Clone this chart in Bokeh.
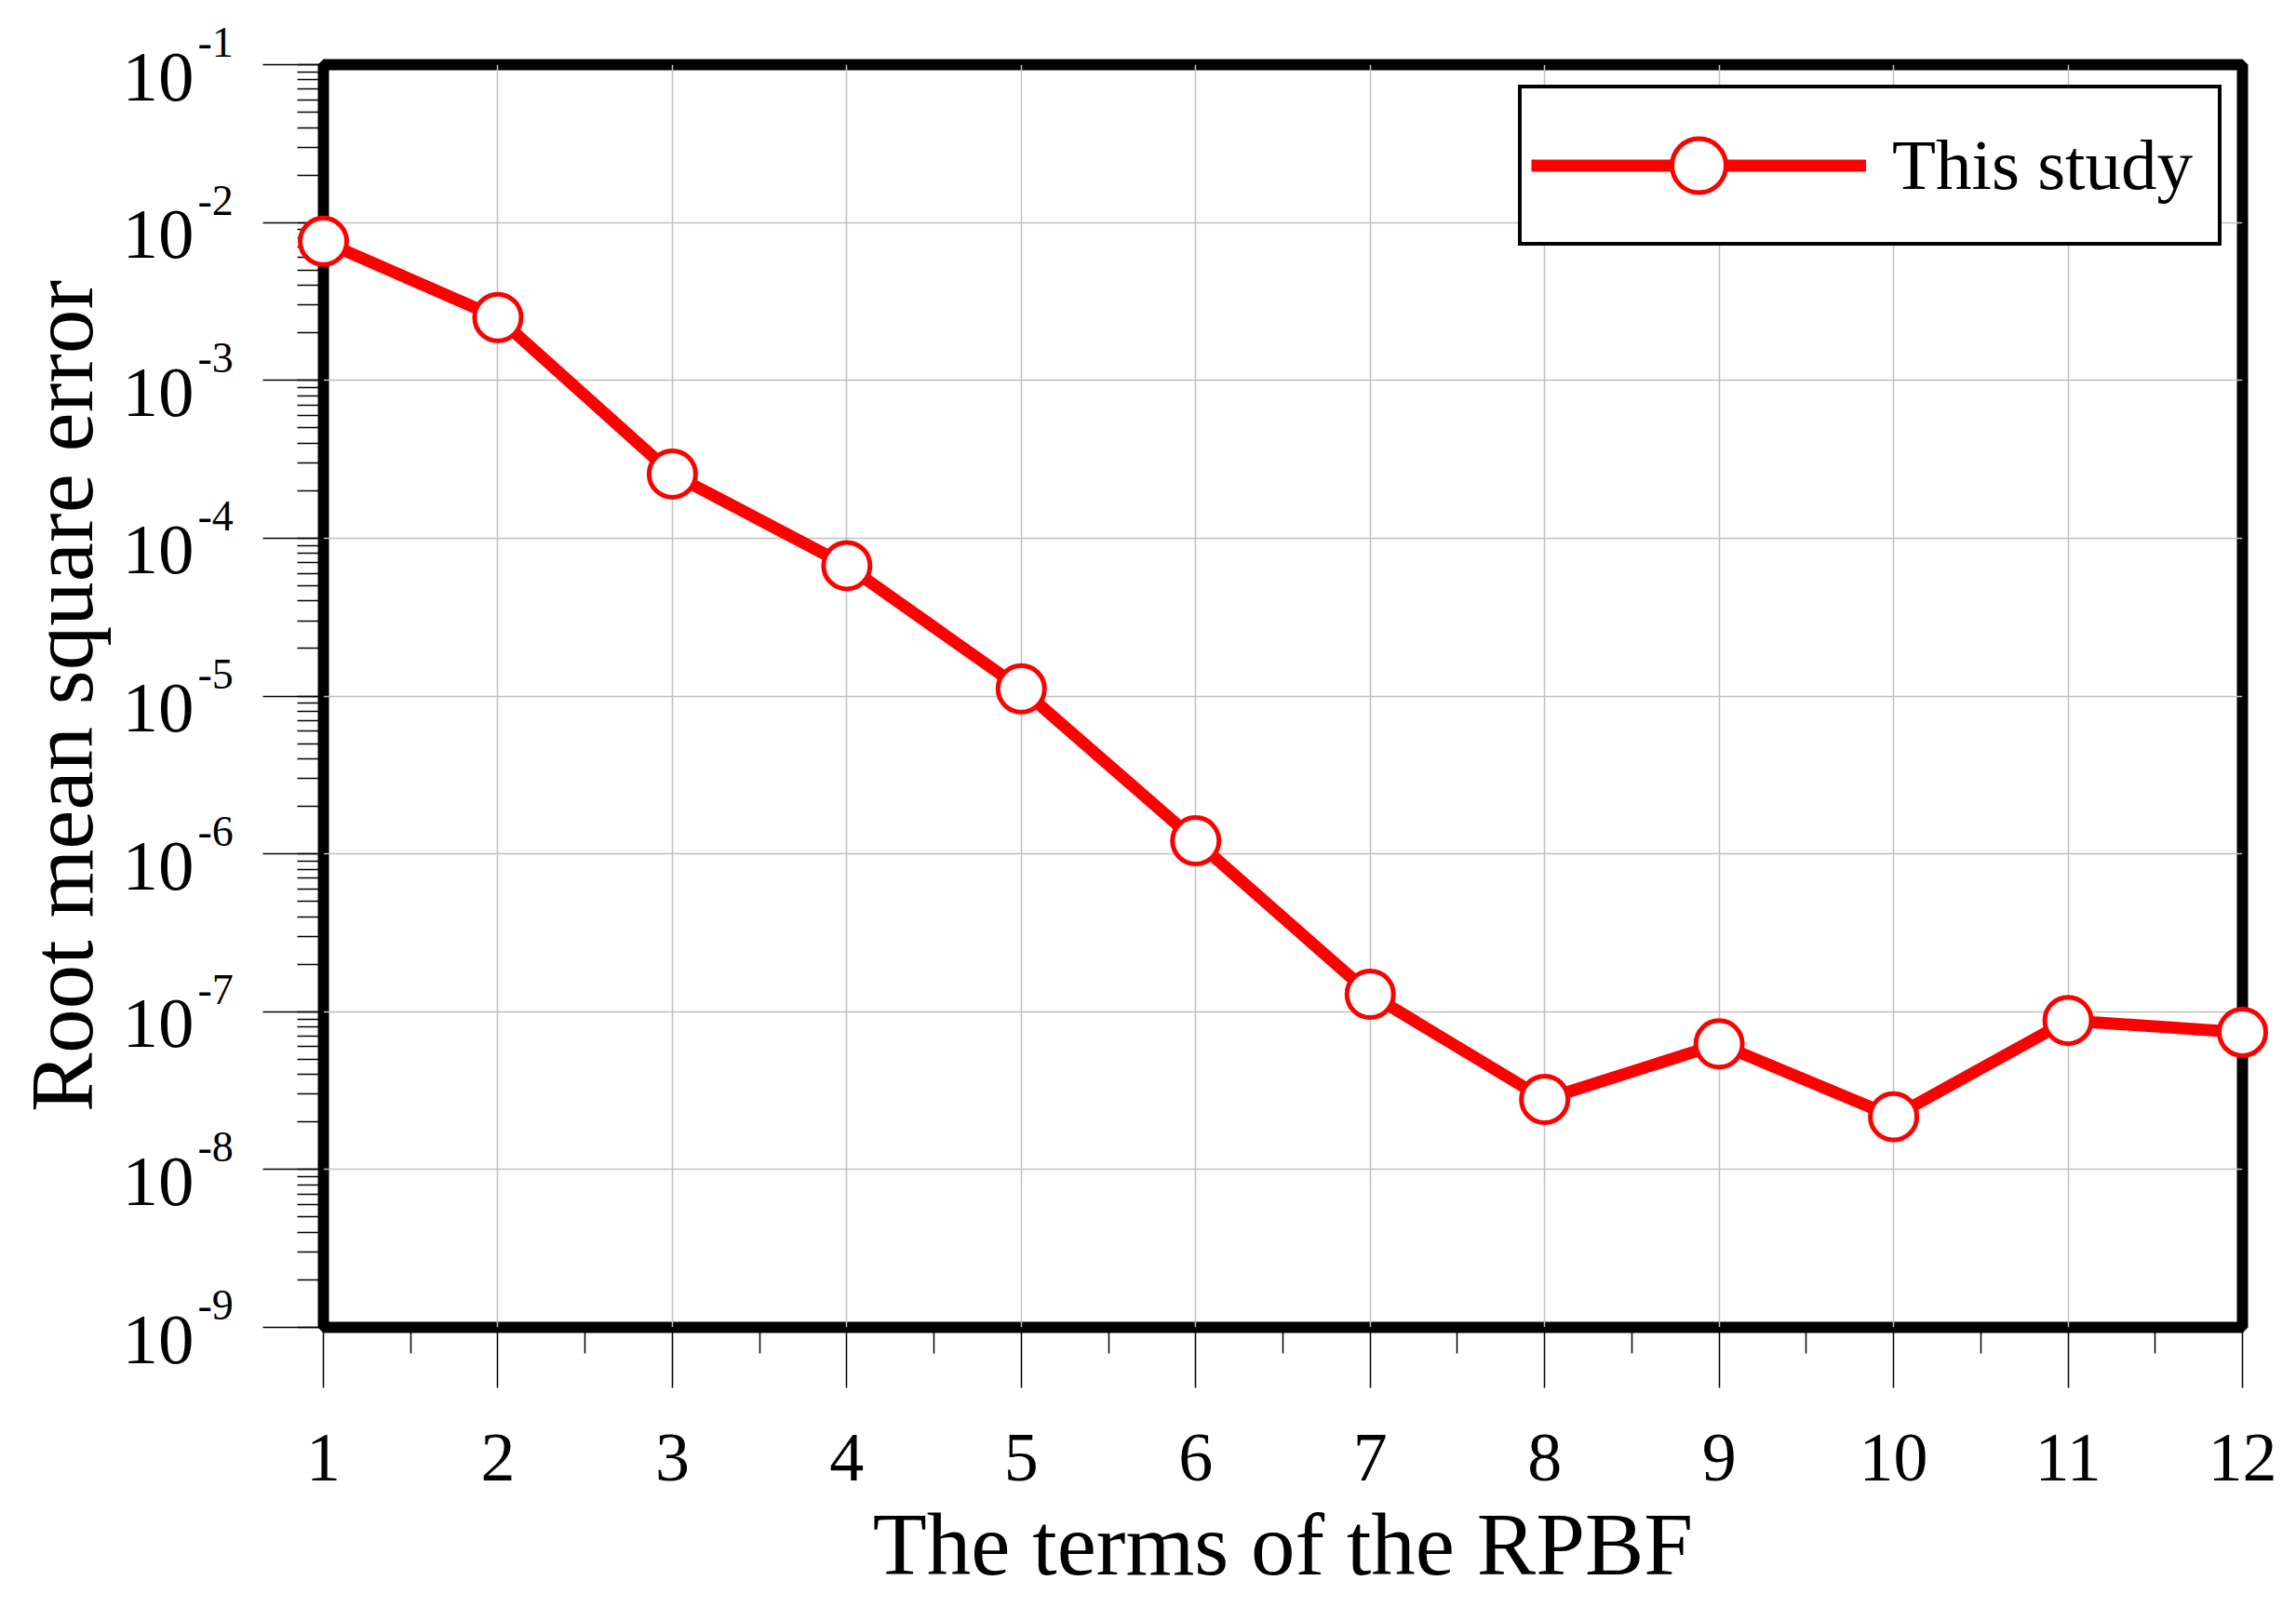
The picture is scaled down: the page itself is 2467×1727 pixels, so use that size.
from bokeh.plotting import figure
from bokeh.models import (Range1d, LogTicker, FixedTicker, CustomJSTickFormatter,
                          Legend, LegendItem, ColumnDataSource)
from bokeh.core.properties import value
from bokeh.embed import file_html
from bokeh.resources import INLINE

# ---- data ----
terms = [1, 2, 3, 4, 5, 6, 7, 8, 9, 10, 11, 12]
rmse = [7.6e-3, 2.5e-3, 2.55e-4, 6.7e-5, 1.11e-5, 1.21e-6,
        1.29e-7, 2.78e-8, 6.25e-8, 2.16e-8, 8.8e-8, 7.4e-8]
x_ticks = [1, 2, 3, 4, 5, 6, 7, 8, 9, 10, 11, 12]
y_tick_exponents = [-1, -2, -3, -4, -5, -6, -7, -8, -9]
y_tick_base = "10"
series_name = "This study"
x_title = "The terms of the RPBF"
y_title = "Root mean square error"

FONT = "Liberation Serif"
X_START, X_END = 1, 12
Y_START, Y_END = 1e-9, 1e-1

p = figure(width=2450, height=1718, y_axis_type="log",
           x_range=Range1d(X_START, X_END), y_range=Range1d(Y_START, Y_END),
           output_backend="svg", toolbar_location=None,
           min_border_left=347, min_border_right=41,
           min_border_top=69, min_border_bottom=292)

p.background_fill_color = "white"
p.border_fill_color = "white"
p.outline_line_color = "black"
p.outline_line_width = 12

# x axis
xa = p.xaxis[0]
xa.ticker = FixedTicker(ticks=x_ticks,
                        minor_ticks=[t + 0.5 for t in x_ticks[:-1]])
# y axis
ya = p.yaxis[0]
ya.ticker = LogTicker(num_minor_ticks=10, mantissas=[1])
ya.formatter = CustomJSTickFormatter(code="return ''")

for ax in (xa, ya):
    ax.axis_line_color = None
    ax.major_tick_line_color = "black"
    ax.minor_tick_line_color = "black"
    ax.major_tick_line_width = 1.5
    ax.minor_tick_line_width = 1.5
    ax.major_tick_in = 0
    ax.major_tick_out = 65
    ax.minor_tick_in = 0
    ax.minor_tick_out = 28
    ax.major_label_text_font = FONT
    ax.major_label_text_color = "black"
    ax.axis_label_text_font = FONT
    ax.axis_label_text_font_style = "normal"
    ax.axis_label_text_color = "black"
    ax.axis_label_text_font_size = "95px"

xa.major_label_text_font_size = "74px"
xa.major_label_standoff = 50
xa.axis_label = x_title
xa.axis_label_standoff = 13

ya.major_label_standoff = 0
ya.axis_label = y_title
ya.axis_label_standoff = 163

p.xgrid.grid_line_color = "#c0c0c0"
p.ygrid.grid_line_color = "#c0c0c0"
p.xgrid.grid_line_width = 1.5
p.ygrid.grid_line_width = 1.5
p.ygrid.minor_grid_line_color = None

# y tick labels: base "10" with raised exponent (drawn as text glyphs)
decades = [10.0 ** e for e in y_tick_exponents]
lab_src = ColumnDataSource(dict(
    x=[X_START] * len(decades), y=decades,
    base=[y_tick_base] * len(decades),
    expo=["%d" % e for e in y_tick_exponents]))
p.text(x="x", y="y", text="base", source=lab_src,
       x_offset=-139, y_offset=13,
       text_align="right", text_baseline="alphabetic",
       text_font=value(FONT), text_font_size="77px",
       text_color="black", level="overlay")
p.text(x="x", y="y", text="expo", source=lab_src,
       x_offset=-135, y_offset=-24,
       text_align="left", text_baseline="alphabetic",
       text_font=value(FONT), text_font_size="46px",
       text_color="black", level="overlay")

ln = p.line(terms, rmse, line_color="red", line_width=13, level="overlay")
sc = p.scatter(terms, rmse, marker="circle", size=50, fill_color="white",
               line_color="red", line_width=5, level="overlay")

legend = Legend(items=[LegendItem(label=series_name, renderers=[ln, sc])],
                location="top_right")
legend.label_text_font = FONT
legend.label_text_font_size = "77px"
legend.label_text_color = "black"
legend.glyph_width = 360
legend.glyph_height = 145
legend.label_standoff = 28
legend.label_height = 145
legend.label_width = 340
legend.border_line_color = "black"
legend.border_line_alpha = 1
legend.border_line_width = 4
legend.background_fill_alpha = 1
legend.padding = 10
legend.margin = 22
p.add_layout(legend)

open("out.html", "w").write(file_html(p, INLINE))
